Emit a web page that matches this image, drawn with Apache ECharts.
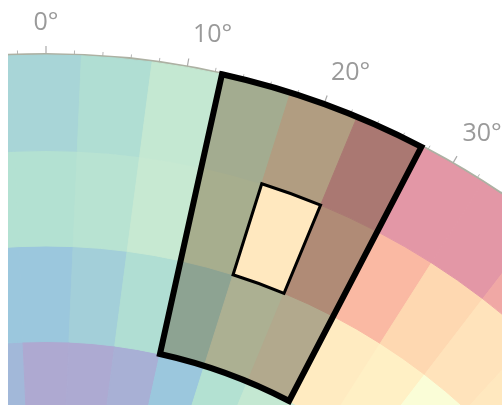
<!DOCTYPE html>
<html><head><meta charset="utf-8">
<script src="https://cdn.jsdelivr.net/npm/echarts@6/dist/echarts.min.js"></script>
<style>html,body{margin:0;padding:0;background:#fff;}#chart{position:absolute;left:8px;top:0;width:494px;height:405px;}</style>
</head><body><div id="chart"></div>
<script>
// angular cell centres (degrees), each cell is 5° wide
const angleCells = [-5, 0, 5, 10, 15, 20, 25, 30, 35, 40, 45];
// ring 0 = innermost visible ring, ring 3 = outermost ring
const ring0Values = [0.6, 0.05, 0.1, 0.3, 1.1, 2.0, 2.5, 2.8, null, null, null];
const ring1Values = [1.1, 1.1, 1.4, 1.9, 2.7, 4.3, 5.8, 6.2, 6.0, 4.6, null];
const ring2Values = [2.0, 2.0, 2.15, 2.6, 3.9, 6.3, 7.5, 7.9, 6.95, 6.5, 6.3];
const ring3Values = [1.6, 1.6, 1.9, 2.5, 3.7, 6.6, 8.4, 9.25, 9.25, 8.6, null];
const ringValues = [ring0Values, ring1Values, ring2Values, ring3Values];
// selection (rings and angle cells, inclusive) and the focused cell
const selRings = [1, 3];
const selAngles = [15, 25];
const focusCell = [2, 20];
const valueMin = 0, valueMax = 10;
const palette = ['#5e4fa2','#3288bd','#66c2a5','#abdda4','#e6f598','#ffffbf','#fee08b','#fdae61','#f46d43','#d53e4f','#9e0142'];

const HALF = 2.5;
const cellData = [];
ringValues.forEach((vals, ring) => {
  vals.forEach((v, i) => { if (v !== null) cellData.push([ring, angleCells[i], v]); });
});
const focusValue = ringValues[focusCell[0]][angleCells.indexOf(focusCell[1])];

function cellColor(v) {
  const c = echarts.color.lerp((v - valueMin) / (valueMax - valueMin), palette);
  return echarts.color.lerp(0.5, [c, '#ffffff']);
}
function sector(params, api, r0v, r1v, a0v, a1v) {
  const cs = params.coordSys;
  const pIn = api.coord([r0v, a0v]);
  const pOut = api.coord([r1v, a1v]);
  return {
    cx: cs.cx, cy: cs.cy,
    r0: Math.hypot(pIn[0] - cs.cx, pIn[1] - cs.cy),
    r: Math.hypot(pOut[0] - cs.cx, pOut[1] - cs.cy),
    startAngle: Math.atan2(pIn[1] - cs.cy, pIn[0] - cs.cx),
    endAngle: Math.atan2(pOut[1] - cs.cy, pOut[0] - cs.cx),
    clockwise: true
  };
}

const chart = echarts.init(document.getElementById('chart'), null, {renderer: 'canvas'});
chart.setOption({
  animation: false,
  backgroundColor: '#fff',
  polar: { center: [38, 868], radius: [431, 813] },
  radiusAxis: { type: 'value', min: 0, max: 4, show: false },
  angleAxis: {
    type: 'value', min: 0, max: 360, interval: 10, startAngle: 90, clockwise: true,
    axisLine: { show: true, lineStyle: { color: '#adb1a3', width: 4 } },
    axisTick: { show: true, length: 9, lineStyle: { color: '#aaaaaa', width: 1.2 } },
    minorTick: { show: true, splitNumber: 5, length: 5, lineStyle: { color: '#b5b5b5', width: 1 } },
    splitLine: { show: false },
    minorSplitLine: { show: false },
    axisLabel: {
      margin: 20, fontSize: 25, fontFamily: 'Open Sans', color: '#9a9a9a',
      formatter: function (v) {
        if (v === 360) return '';
        if (v === 10) return '{s|' + v + '°}';
        return v + '°';
      },
      rich: { s: { padding: [0, 0, 0, 44], fontSize: 25, fontFamily: 'Open Sans', color: '#9a9a9a' } }
    }
  },
  series: [
    {
      type: 'custom', coordinateSystem: 'polar', z: 2,
      encode: { radius: 0, angle: 1 },
      data: cellData,
      renderItem: function (params, api) {
        const ring = api.value(0), ang = api.value(1), v = api.value(2);
        const col = cellColor(v);
        return {
          type: 'sector',
          shape: sector(params, api, ring, ring + 1, ang - HALF, ang + HALF),
          style: { fill: col, stroke: col, lineWidth: 1 }
        };
      }
    },
    {
      type: 'custom', coordinateSystem: 'polar', z: 3,
      encode: { radius: [0, 2], angle: [1, 3] },
      data: [[selRings[0], selAngles[0], selRings[1], selAngles[1], focusCell[0], focusCell[1], focusValue]],
      renderItem: function (params, api) {
        const r0 = api.value(0), a0 = api.value(1), r1 = api.value(2), a1 = api.value(3);
        const fr = api.value(4), fa = api.value(5), fv = api.value(6);
        const outer = sector(params, api, r0, r1 + 1, a0 - HALF, a1 + HALF);
        return {
          type: 'group',
          children: [
            { type: 'sector', shape: outer, style: { fill: 'rgba(0,0,0,0.3)' } },
            { type: 'sector', shape: sector(params, api, fr, fr + 1, fa - HALF, fa + HALF),
              style: { fill: cellColor(fv), stroke: '#000', lineWidth: 3 } },
            { type: 'sector', shape: outer, style: { fill: 'none', stroke: '#000', lineWidth: 6 } }
          ]
        };
      }
    }
  ]
});
</script></body></html>
